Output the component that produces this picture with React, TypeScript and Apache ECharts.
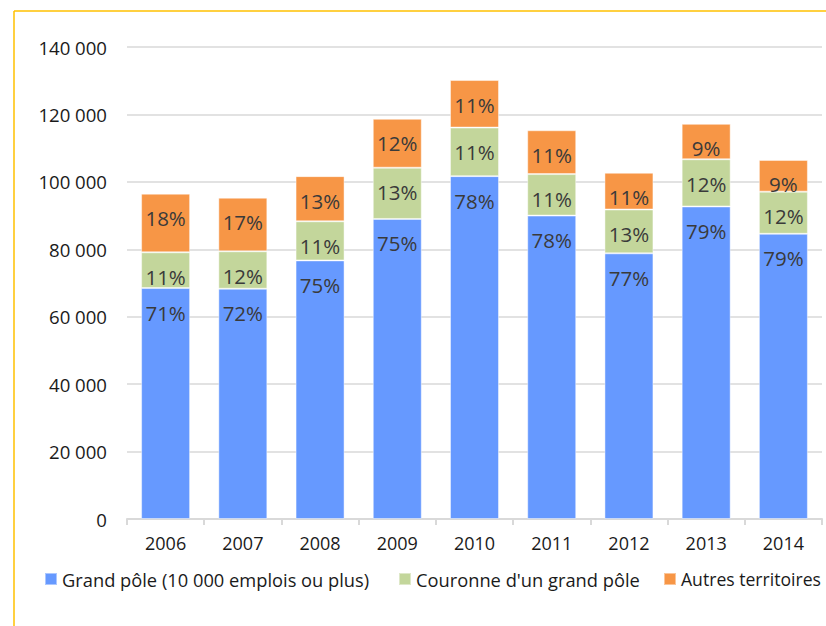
import React, { useEffect, useRef } from "react";
import * as echarts from "echarts";

const years = ["2006", "2007", "2008", "2009", "2010", "2011", "2012", "2013", "2014"];
const grandPole = [68500, 68300, 76700, 89000, 101700, 90000, 78800, 92700, 84600];
const couronne = [10600, 11100, 11600, 15200, 14400, 12300, 13000, 14000, 12500];
const autres = [17400, 15900, 13400, 14500, 14100, 13000, 10900, 10500, 9400];
const seriesNames = ["Grand pôle (10 000 emplois ou plus)", "Couronne d'un grand pôle", "Autres territoires"];
const colors = ["#6699FF", "#C3D69B", "#F79646"];

const totals = years.map((_, i) => grandPole[i] + couronne[i] + autres[i]);
const fmt = (v: number) => String(v).replace(/\B(?=(\d{3})+(?!\d))/g, " ");
const FONT = "'Open Sans', sans-serif";
const legendLefts = [39, 393, 658];
const legendSizes = [18.3, 18.3, 17.6];

export default function App() {
  const ref = useRef<HTMLDivElement>(null);
  useEffect(() => {
    if (!ref.current) return;
    const chart = echarts.init(ref.current, null, { renderer: "svg" });
    const mk = (name: string, data: number[], color: string) => ({
      name,
      type: "bar",
      stack: "total",
      data,
      barWidth: 49,
      itemStyle: { color, borderColor: "rgba(255,255,255,0.45)", borderWidth: 1 },
      label: {
        show: true,
        position: "insideTop",
        distance: 14,
        color: "#3a3a3a",
        fontSize: 20.5,
        fontFamily: FONT,
        formatter: (p: any) => Math.round((p.value / totals[p.dataIndex]) * 100) + "%",
      },
    });
    chart.setOption({
      animation: false,
      backgroundColor: "#ffffff",
      textStyle: { fontFamily: FONT },
      graphic: [
        { type: "line", shape: { x1: 14, y1: 11, x2: 14, y2: 626 }, style: { stroke: "#FFC000", lineWidth: 1.5 } },
        { type: "line", shape: { x1: 14, y1: 11, x2: 826, y2: 11 }, style: { stroke: "#FFC000", lineWidth: 1.5 } },
      ],
      grid: { left: 127, right: 4, top: 47, bottom: 107 },
      legend: seriesNames.map((n, i) => ({
        left: legendLefts[i],
        top: 565,
        itemWidth: 12,
        itemHeight: 12,
        icon: "rect",
        textStyle: { fontSize: legendSizes[i], color: "#1a1a1a", fontFamily: FONT },
        data: [n],
      })),
      xAxis: {
        type: "category",
        data: years,
        axisLine: { lineStyle: { color: "#D9D9D9", width: 2 } },
        axisTick: { show: true, length: 6, lineStyle: { color: "#D9D9D9", width: 2 } },
        axisLabel: { color: "#1a1a1a", fontSize: 18, margin: 15, fontFamily: FONT },
      },
      yAxis: {
        type: "value",
        min: 0,
        max: 140000,
        interval: 20000,
        axisLine: { show: false },
        axisTick: { show: false },
        splitLine: { lineStyle: { color: "#D9D9D9", width: 1.5 } },
        axisLabel: { color: "#1a1a1a", fontSize: 18.6, margin: 20, formatter: fmt, fontFamily: FONT },
      },
      series: [
        mk(seriesNames[0], grandPole, colors[0]),
        mk(seriesNames[1], couronne, colors[1]),
        mk(seriesNames[2], autres, colors[2]),
      ],
    });
    return () => chart.dispose();
  }, []);
  return <div ref={ref} style={{ position: "fixed", left: 0, top: 0, width: 826, height: 626 }} />;
}
